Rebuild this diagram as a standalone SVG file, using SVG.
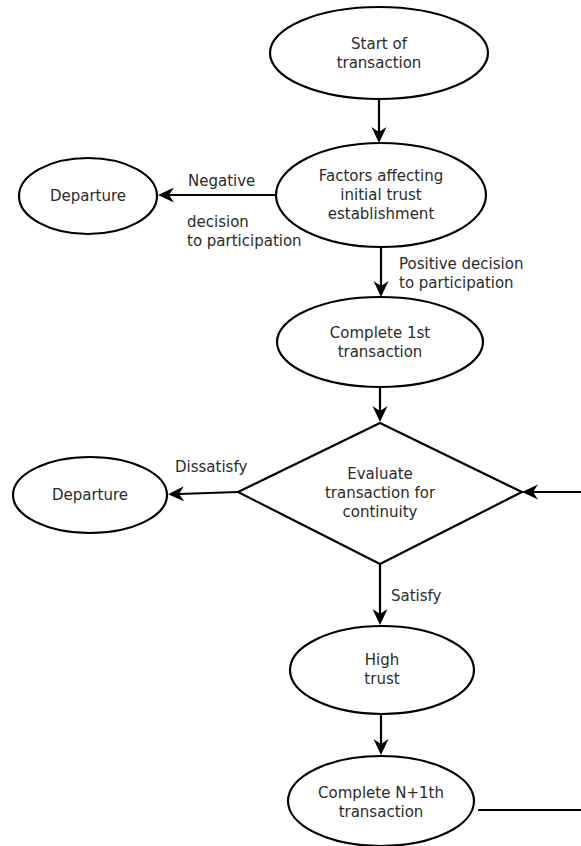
<svg xmlns="http://www.w3.org/2000/svg" width="581" height="846" viewBox="0 0 581 846">
  <style>
    .shape { fill: #ffffff; stroke: #000000; stroke-width: 2.2; }
    .edge { fill: none; stroke: #000000; stroke-width: 2.2; marker-end: url(#arrow); }
    text { font-family: "DejaVu Sans", "Liberation Sans", sans-serif; font-size: 15px; fill: #2b2b2b; }
    .c { text-anchor: middle; }
  </style>
  <defs>
    <!-- notched arrowhead; the line stops at the notch, the tip sits 11px further on -->
    <marker id="arrow" markerUnits="userSpaceOnUse" markerWidth="20" markerHeight="20" viewBox="0 -10 20 20" refX="5" refY="0" orient="auto">
      <path d="M16,0 L0,-7.5 L5,0 L0,7.5 Z" fill="#000000"/>
    </marker>
  </defs>

  <rect width="581" height="846" fill="#ffffff"/>

  <!-- connectors -->
  <g id="connectors">
    <line class="edge" x1="379" y1="99" x2="379" y2="132"/>
    <line class="edge" x1="276" y1="195" x2="169" y2="195"/>
    <line class="edge" x1="381" y1="247" x2="381" y2="286"/>
    <line class="edge" x1="380" y1="387" x2="380" y2="411"/>
    <line class="edge" x1="238" y1="492" x2="179" y2="494"/>
    <line class="edge" x1="380" y1="564" x2="380" y2="614"/>
    <line class="edge" x1="381" y1="714" x2="381" y2="744"/>
    <path class="edge" d="M478,810 L590,810 L590,492 L533,492"/>
    <text x="188" y="186">Negative</text>
    <text x="187" y="227">decision</text>
    <text x="187" y="246">to participation</text>
    <text x="399" y="269">Positive decision</text>
    <text x="399" y="288">to participation</text>
    <text x="175" y="472">Dissatisfy</text>
    <text x="391" y="601">Satisfy</text>
  </g>

  <g id="start">
    <ellipse class="shape" cx="379" cy="53" rx="109" ry="46"/>
    <text class="c" x="379" y="49">Start of</text>
    <text class="c" x="379" y="68">transaction</text>
  </g>

  <g id="factors">
    <ellipse class="shape" cx="381" cy="195" rx="105" ry="52"/>
    <text class="c" x="381" y="181">Factors affecting</text>
    <text class="c" x="381" y="200">initial trust</text>
    <text class="c" x="381" y="219">establishment</text>
  </g>

  <g id="departure-initial">
    <ellipse class="shape" cx="88" cy="196" rx="69" ry="38"/>
    <text class="c" x="88" y="201">Departure</text>
  </g>

  <g id="complete-first">
    <ellipse class="shape" cx="380" cy="342" rx="103" ry="45"/>
    <text class="c" x="380" y="338">Complete 1st</text>
    <text class="c" x="380" y="357">transaction</text>
  </g>

  <g id="evaluate">
    <polygon class="shape" points="380,423 522,492 380,564 238,492"/>
    <text class="c" x="380" y="479">Evaluate</text>
    <text class="c" x="380" y="498">transaction for</text>
    <text class="c" x="380" y="517">continuity</text>
  </g>

  <g id="departure-evaluate">
    <ellipse class="shape" cx="90" cy="495" rx="77" ry="38"/>
    <text class="c" x="90" y="500">Departure</text>
  </g>

  <g id="high-trust">
    <ellipse class="shape" cx="382" cy="670" rx="92" ry="44"/>
    <text class="c" x="382" y="665">High</text>
    <text class="c" x="382" y="684">trust</text>
  </g>

  <g id="complete-next">
    <ellipse class="shape" cx="381" cy="801" rx="93" ry="45"/>
    <text class="c" x="381" y="798">Complete N+1th</text>
    <text class="c" x="381" y="817">transaction</text>
  </g>
</svg>
